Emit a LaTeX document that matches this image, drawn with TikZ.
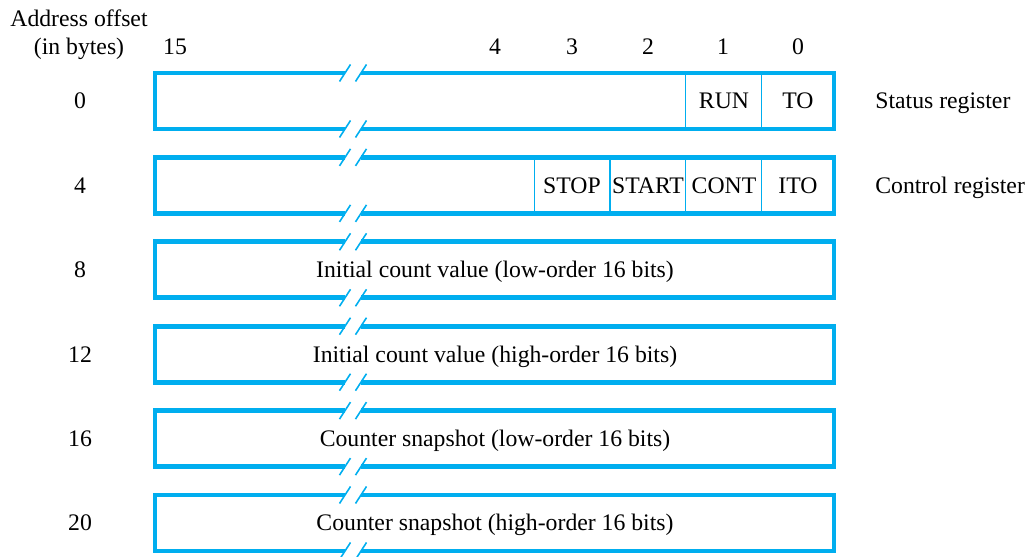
\documentclass[tikz,border=0pt]{standalone}
\usepackage{fontspec}
\setmainfont{Liberation Serif}
\definecolor{regblue}{RGB}{0,174,239}
\begin{document}
\begin{tikzpicture}[
    x=0.02cm, y=-0.02cm,
    every node/.style={
        font=\fontsize{13.5}{16}\selectfont,
        inner sep=0pt
    },
    regbox/.style={draw=regblue, line width=2.7pt, line join=miter},
    divider/.style={draw=regblue, line width=0.9pt},
    brk/.style={draw=regblue, line width=0.9pt}
]
\useasboundingbox (0,0) rectangle (1029,557);

% Header
\node[anchor=base] (addr) at (79,27) {Address offset};
\node[anchor=base] (bytes) at (79,55) {(in bytes)};
\foreach \x/\b in {175/15,495/4,572/3,648/2,723/1,798/0}
    \node[anchor=base] (bit\b) at (\x,55) {\b};

% Registers with break marks
\foreach \i/\off in {0/0,1/4,2/8,3/12,4/16,5/20} {
    \pgfmathsetmacro{\ytop}{73+84.4*\i}
    \pgfmathsetmacro{\ybot}{\ytop+56}
    \draw[regbox] (345,\ytop) -- (155,\ytop) -- (155,\ybot) -- (345,\ybot);
    \draw[regbox] (361,\ytop) -- (834,\ytop) -- (834,\ybot) -- (361,\ybot);
    \foreach \xb in {345,361} {
        \draw[brk] (\xb-5.5,\ytop+8.5) -- (\xb+5.5,\ytop-8.5);
        \draw[brk] (\xb-5.5,\ybot+8.5) -- (\xb+5.5,\ybot-8.5);
    }
    \node[anchor=base] (off\off) at (80,\ytop+36) {\off};
}

% Status register fields
\foreach \x in {685.7,761.4}
    \draw[divider] (\x,73) -- (\x,129);
\node[anchor=base] (run) at (724,109) {RUN};
\node[anchor=base] (to) at (798,109) {TO};
\node[anchor=base west] (status) at (875,109) {Status register};

% Control register fields
\foreach \x in {534.3,610,685.7,761.4}
    \draw[divider] (\x,157.4) -- (\x,213.4);
\node[anchor=base] (stop) at (572,193.4) {STOP};
\node[anchor=base] (start) at (648,193.4) {START};
\node[anchor=base] (cont) at (724,193.4) {CONT};
\node[anchor=base] (ito) at (798,193.4) {ITO};
\node[anchor=base west] (control) at (875,193.4) {Control register};

% Counter registers
\node[anchor=base] (initlo) at (495,277.8) {Initial count value (low-order 16 bits)};
\node[anchor=base] (inithi) at (495,362.2) {Initial count value (high-order 16 bits)};
\node[anchor=base] (snaplo) at (495,446.6) {Counter snapshot (low-order 16 bits)};
\node[anchor=base] (snaphi) at (495,531) {Counter snapshot (high-order 16 bits)};

\end{tikzpicture}
\end{document}
